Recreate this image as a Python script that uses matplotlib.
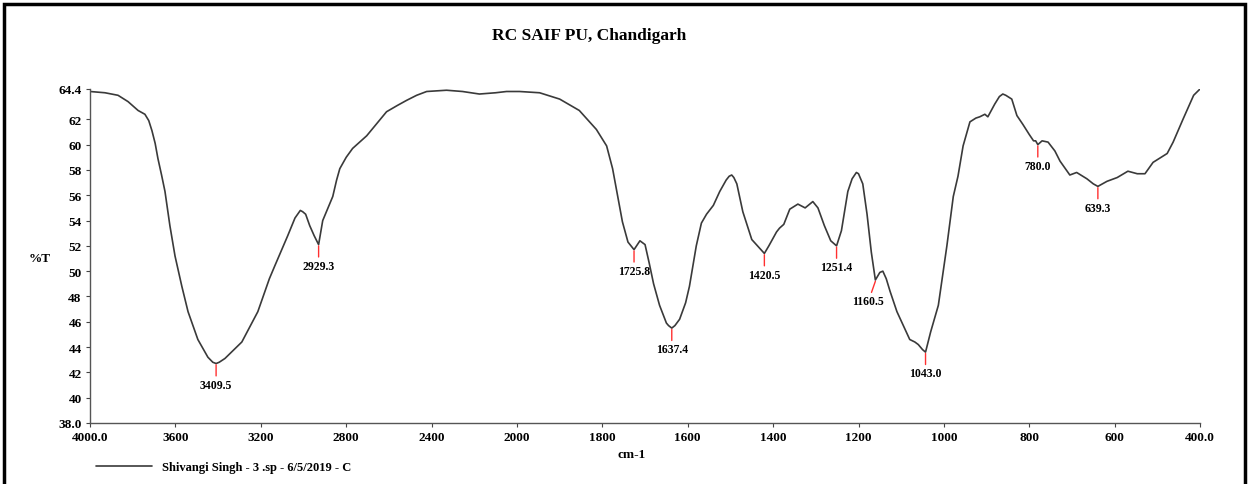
import numpy as np
import matplotlib
matplotlib.use("Agg")
import matplotlib.pyplot as plt
from matplotlib.patches import Rectangle

# ---- data ----
wavenumber = [4000, 3930, 3869, 3822, 3775, 3743, 3725, 3710, 3695, 3682, 3665, 3649, 3626,
              3602, 3570, 3541, 3495, 3448, 3425, 3409.5, 3395, 3368, 3289, 3214, 3160,
              3135, 3074, 3040, 3015, 3004, 2990, 2971, 2950, 2929.3, 2910, 2885, 2863,
              2845, 2830, 2800, 2770, 2704, 2660, 2611, 2560, 2517, 2470, 2423, 2330,
              2255, 2176, 2100, 2049, 1994, 1947, 1900, 1854, 1814, 1790, 1776, 1764,
              1753, 1740, 1725.8, 1712, 1700, 1690, 1680, 1666, 1650, 1645, 1637.4, 1630,
              1619, 1605, 1596, 1580, 1568, 1556, 1540, 1525, 1510, 1503, 1497, 1492,
              1485, 1471, 1450, 1420.5, 1410, 1392, 1385, 1375, 1361, 1342, 1325, 1307,
              1295, 1280, 1265, 1251.4, 1240, 1225, 1215, 1205, 1200, 1190, 1180, 1170,
              1160.5, 1150, 1143, 1135, 1126, 1110, 1095, 1080, 1068, 1060, 1050, 1043,
              1031, 1013, 993, 978, 967, 955, 939, 925, 916, 904, 897, 881, 870, 862, 855,
              841, 829, 815, 800, 790, 785, 780, 770, 756, 740, 728, 705, 689, 665, 650,
              639.3, 618, 594, 569, 547, 529, 510, 477, 463, 440, 415, 400]
transmittance = [64.2, 64.1, 63.9, 63.4, 62.7, 62.4, 61.9, 61.1, 60.1, 58.9, 57.6, 56.3,
                 53.6, 51.2, 48.8, 46.8, 44.6, 43.2, 42.8, 42.7, 42.8, 43.1, 44.4, 46.8,
                 49.4, 50.4, 52.8, 54.2, 54.8, 54.7, 54.5, 53.6, 52.8, 52.1, 54.0, 55.0,
                 55.9, 57.2, 58.1, 59.0, 59.7, 60.7, 61.6, 62.6, 63.1, 63.5, 63.9, 64.2,
                 64.3, 64.2, 64.0, 64.1, 64.2, 64.2, 64.1, 63.6, 62.7, 61.2, 59.9, 58.1,
                 55.9, 53.9, 52.3, 51.7, 52.4, 52.1, 50.6, 49.0, 47.3, 45.9, 45.7, 45.5,
                 45.7, 46.2, 47.5, 48.8, 52.0, 53.8, 54.5, 55.2, 56.3, 57.2, 57.5, 57.6,
                 57.4, 56.9, 54.7, 52.5, 51.4, 52.0, 53.1, 53.4, 53.7, 54.9, 55.3, 55.0,
                 55.5, 55.0, 53.6, 52.4, 52.0, 53.2, 56.3, 57.3, 57.8, 57.7, 56.9, 54.5,
                 51.5, 49.3, 49.9, 50.0, 49.4, 48.4, 46.8, 45.7, 44.6, 44.4, 44.2, 43.8,
                 43.6, 45.2, 47.3, 52.0, 55.9, 57.5, 59.9, 61.8, 62.1, 62.2, 62.4, 62.2,
                 63.2, 63.8, 64.0, 63.9, 63.6, 62.3, 61.6, 60.8, 60.3, 60.3, 60.0, 60.3,
                 60.2, 59.5, 58.7, 57.6, 57.8, 57.3, 56.9, 56.7, 57.1, 57.4, 57.9, 57.7,
                 57.7, 58.6, 59.3, 60.2, 62.0, 63.9, 64.4]

peak_wn = [3409.5, 2929.3, 1725.8, 1637.4, 1420.5, 1251.4, 1160.5, 1043.0, 780.0, 639.3]
peak_t = [42.7, 52.1, 51.7, 45.5, 51.4, 52.0, 49.3, 43.6, 60.0, 56.7]
peak_labels = ["3409.5", "2929.3", "1725.8", "1637.4", "1420.5", "1251.4", "1160.5",
               "1043.0", "780.0", "639.3"]

xticks = [4000, 3600, 3200, 2800, 2400, 2000, 1800, 1600, 1400, 1200, 1000, 800, 600, 400]
xtick_labels = ["4000.0", "3600", "3200", "2800", "2400", "2000", "1800", "1600", "1400",
                "1200", "1000", "800", "600", "400.0"]
yticks = [38.0, 40, 42, 44, 46, 48, 50, 52, 54, 56, 58, 60, 62, 64.4]
ytick_labels = ["38.0", "40", "42", "44", "46", "48", "50", "52", "54", "56", "58", "60",
                "62", "64.4"]

title = "RC SAIF PU, Chandigarh"
legend_label = "Shivangi Singh - 3 .sp - 6/5/2019 - C"

# ---- plot ----
plt.rcParams['font.family'] = ['Liberation Serif', 'DejaVu Serif']
plt.rcParams['font.weight'] = 'bold'

fig = plt.figure(figsize=(12.49, 4.85), dpi=100)
ax = fig.add_axes([0.0721, 0.1258, 0.8887, 0.6887])


def fwd(x):
    x = np.asarray(x, dtype=float)
    return np.where(x > 2000, 2000 + (x - 2000) / 2.0, x)


def inv(y):
    y = np.asarray(y, dtype=float)
    return np.where(y > 2000, 2000 + (y - 2000) * 2.0, y)


ax.set_xscale('function', functions=(fwd, inv))
line, = ax.plot(wavenumber, transmittance, color='#3a3a3a', lw=1.2,
                solid_joinstyle='round', solid_capstyle='round')
ax.set_xlim(4000, 400)
ax.set_ylim(38.0, 64.4)

ax.set_xticks(xticks)
ax.set_xticklabels(xtick_labels)
ax.set_yticks(yticks)
ax.set_yticklabels(ytick_labels)
ax.minorticks_off()
ax.tick_params(axis='both', labelsize=9.5, length=3, width=0.8, color='#444444',
               direction='out', pad=3)
for lab in ax.get_xticklabels() + ax.get_yticklabels():
    lab.set_fontweight('bold')

for s in ['top', 'right']:
    ax.spines[s].set_visible(False)
for s in ['left', 'bottom']:
    ax.spines[s].set_color('#555555')
    ax.spines[s].set_linewidth(1.0)

ax.set_ylabel('%T', rotation=0, fontsize=9.5, fontweight='bold')
ax.yaxis.set_label_coords(-0.045, 0.476)
ax.set_xlabel('cm-1', fontsize=9.5, fontweight='bold')
ax.xaxis.set_label_coords(0.488, -0.075)

ax.set_title(title, fontsize=12.5, fontweight='bold', pad=36, x=0.45)

for wn, t, lab in zip(peak_wn, peak_t, peak_labels):
    dx = -5 if lab == "1160.5" else 0
    ax.annotate(lab, xy=(wn, t - 0.1), xytext=(dx, -10), textcoords='offset points',
                ha='center', va='top', fontsize=8.5, fontweight='bold',
                arrowprops=dict(arrowstyle='-', color='#ff3030', lw=1.0,
                                shrinkA=0, shrinkB=0))

fig.legend([line], [legend_label], loc='center left', bbox_to_anchor=(0.068, 0.035),
           frameon=False, handlelength=4.5, prop={'weight': 'bold', 'size': 9})

fig.add_artist(Rectangle((0.003, -0.1), 0.994, 1.09, transform=fig.transFigure,
                         fill=False, lw=2.5, edgecolor='black'))

fig.savefig('out.png', dpi=100)
